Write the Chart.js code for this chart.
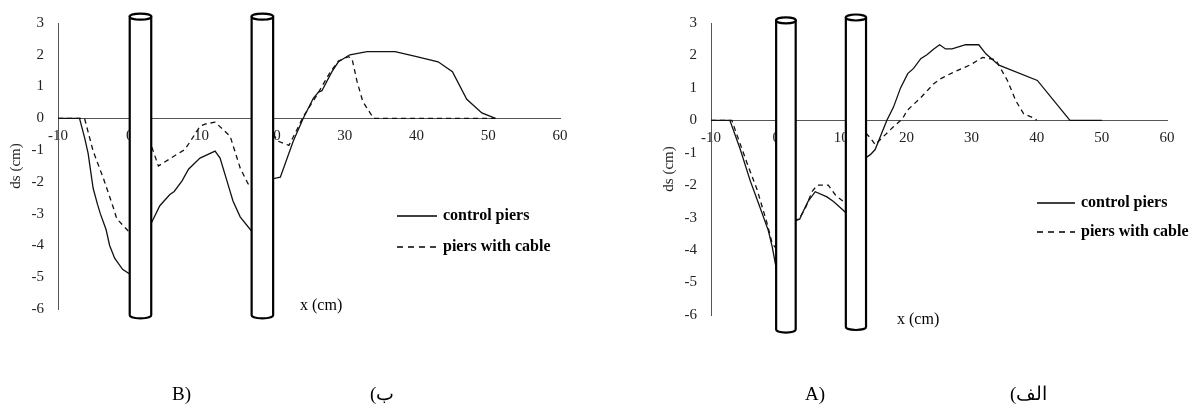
<!DOCTYPE html>
<html>
<head>
<meta charset="utf-8">
<script src="https://cdn.jsdelivr.net/npm/chart.js@4.4.1/dist/chart.umd.min.js"></script>
<style>
  body { margin: 0; background: #fff; }
  #wrap { position: relative; width: 1199px; height: 412px; overflow: hidden; background: #fff; }
  .panel { position: absolute; top: 0; height: 412px; }
  .cap { position: absolute; top: 384px; font: 19px "Liberation Serif", "Times New Roman", serif; color: #000; line-height: 1; }
</style>
</head>
<body>
<div id="wrap">
  <div class="panel" style="left:0;width:600px"><canvas id="chartB"></canvas></div>
  <div class="panel" style="left:600px;width:599px"><canvas id="chartA"></canvas></div>
  <div class="cap" style="left:172px">B)</div>
  <div class="cap" dir="rtl" style="left:370px">ب)</div>
  <div class="cap" style="left:805px">A)</div>
  <div class="cap" dir="rtl" style="left:1010px">الف)</div>
</div>
<script>
// scour depth ds (cm) along x (cm), panel B
const bCtrlX = [-10, -7, -6.3, -5.8, -5.1, -4.5, -4.1, -3.3, -2.8, -2.1, -1, 0,
    3, 4.2, 5.6, 6.2, 7.3, 8.2, 9.8, 11.9, 12.6, 13.6, 14.4, 15.4, 17,
    20, 21, 22.8, 24.2, 25.6, 26.3, 26.8, 28.2, 29.1, 30.7, 33.1, 37, 40, 43, 45, 47, 49.1, 51];
const bCtrlY = [0, 0, -0.6, -1.1, -2.2, -2.7, -3.0, -3.5, -4.0, -4.4, -4.75, -4.9,
    -3.3, -2.75, -2.4, -2.3, -1.97, -1.6, -1.25, -1.03, -1.25, -2.0, -2.6, -3.1, -3.55,
    -1.9, -1.85, -0.72, 0, 0.63, 0.82, 0.87, 1.47, 1.78, 2.0, 2.1, 2.1, 1.94, 1.78, 1.47, 0.6, 0.17, 0];
const bCableX = [-10, -6.3, -5.1, -3.7, -2.75, -2.3, -1.8, -0.4, 0,
    3, 4, 6.1, 7.7, 9.1, 9.8, 10.5, 11.9, 14, 15.4, 16.5, 17,
    20, 20.7, 22.2, 23, 24.2, 26.1, 28, 29.1, 30.5, 31, 31.7, 32.5, 34, 51];
const bCableY = [0, 0, -1.03, -1.87, -2.5, -2.8, -3.16, -3.5, -3.6,
    -0.85, -1.5, -1.2, -0.98, -0.5, -0.25, -0.18, -0.12, -0.56, -1.56, -2.06, -2.1,
    -0.5, -0.72, -0.85, -0.5, 0.05, 0.73, 1.47, 1.8, 1.94, 1.88, 1.16, 0.53, 0, 0];

// panel A
const aCtrlX = [-10, -7.1, -5.5, -4, -2.5, -1.2, -0.6, 0,
    3, 3.6, 4, 4.9, 6, 7.8, 8.8, 10.3, 10.7,
    13.8, 14.5, 15.2, 16, 17, 18, 19.1, 20.2, 21.1, 22.2, 23.2, 24.2, 25.1, 26, 27, 29.1, 31.1, 32.2, 34.2, 40.1, 45.1, 50];
const aCtrlY = [0, 0, -0.9, -1.85, -2.67, -3.4, -3.9, -4.55,
    -3.05, -3.05, -2.87, -2.5, -2.2, -2.36, -2.5, -2.77, -2.85,
    -1.15, -1.05, -0.9, -0.5, 0, 0.4, 1.0, 1.44, 1.6, 1.9, 2.03, 2.2, 2.33, 2.2, 2.2, 2.33, 2.33, 2.05, 1.7, 1.23, 0, 0];
const aCableX = [-10, -6.8, -6, -4.5, -2.9, -1.4, -0.6, 0,
    3, 3.5, 4.5, 5.5, 6.3, 8, 9.1, 10.3, 10.7,
    13.8, 14.5, 15.2, 16.2, 18, 19.4, 20.1, 22.2, 24.2, 25.2, 27.2, 29.8, 31.7, 33.7, 35.5, 36.8, 38, 39.8, 40];
const aCableY = [0, 0, -0.46, -1.3, -2.15, -3.17, -3.8, -3.95,
    -3.1, -3.05, -2.7, -2.2, -2.0, -2.0, -2.3, -2.5, -2.55,
    -0.4, -0.55, -0.75, -0.55, -0.2, 0.05, 0.3, 0.7, 1.13, 1.28, 1.48, 1.71, 1.94, 1.87, 1.23, 0.6, 0.2, 0.05, 0];

// pier extents in data units
const bPierFrom = [0, 17], bPierTo = [3, 20], bPierTop = [3.2, 3.2], bPierBottom = [-6.2, -6.2];
const aPierFrom = [0, 10.7], aPierTo = [3, 13.8], aPierTop = [3.08, 3.17], aPierBottom = [-6.45, -6.37];

const seriesNames = ['control piers', 'piers with cable'];
const SERIF = '"Liberation Serif", "Times New Roman", serif';

function toPoints(xs, ys) {
    return xs.map((v, i) => ({ x: v, y: ys[i] }));
}

// draws the piers on top of the plot, then the legend and the x note
const piersPlugin = {
    id: 'piers',
    afterDraw(chart, args, opts) {
        const { ctx, scales: { x, y } } = chart;
        ctx.save();
        ctx.lineWidth = 2.2;
        ctx.strokeStyle = '#000';
        ctx.fillStyle = '#fff';
        opts.from.forEach((f, i) => {
            const l = x.getPixelForValue(f);
            const r = x.getPixelForValue(opts.to[i]);
            const t = y.getPixelForValue(opts.top[i]);
            const b = y.getPixelForValue(opts.bottom[i]);
            const cx = (l + r) / 2, rx = (r - l) / 2, ry = 3;
            ctx.beginPath();
            ctx.moveTo(l, t);
            ctx.lineTo(l, b);
            ctx.ellipse(cx, b, rx, ry, 0, Math.PI, 0, true);
            ctx.lineTo(r, t);
            ctx.closePath();
            ctx.fill();
            ctx.stroke();
            ctx.beginPath();
            ctx.ellipse(cx, t, rx, ry, 0, 0, Math.PI * 2);
            ctx.fill();
            ctx.stroke();
        });

        // legend
        const lg = opts.legend;
        ctx.fillStyle = '#000';
        ctx.font = 'bold 16px ' + SERIF;
        ctx.textBaseline = 'middle';
        chart.data.datasets.forEach((ds, i) => {
            const yy = lg.y + i * lg.gap;
            ctx.beginPath();
            ctx.lineWidth = 1.6;
            ctx.setLineDash(ds.borderDash ? [6, 5] : []);
            ctx.moveTo(lg.x, yy);
            ctx.lineTo(lg.x + lg.len, yy);
            ctx.stroke();
            ctx.setLineDash([]);
            ctx.fillText(ds.label, lg.x + lg.len + 6, yy);
        });

        ctx.font = '16px ' + SERIF;
        ctx.fillText(opts.note.text, opts.note.x, opts.note.y);
        ctx.restore();
    }
};

function makeChart(id, ctrl, cable, piers, pad, legend, note) {
    return new Chart(document.getElementById(id), {
        type: 'line',
        data: {
            datasets: [{
                label: seriesNames[0],
                data: ctrl,
                borderColor: '#111',
                borderWidth: 1.3
            }, {
                label: seriesNames[1],
                data: cable,
                borderColor: '#111',
                borderWidth: 1.3,
                borderDash: [5, 4]
            }]
        },
        options: {
            responsive: true,
            maintainAspectRatio: false,
            animation: false,
            layout: { padding: pad },
            elements: { point: { radius: 0 }, line: { tension: 0 } },
            plugins: {
                legend: { display: false },
                tooltip: { enabled: false },
                piers: { ...piers, legend: legend, note: note }
            },
            scales: {
                x: {
                    type: 'linear',
                    position: { y: 0 },
                    min: -10,
                    max: 60,
                    grid: { display: false, drawTicks: false },
                    border: { display: true, color: '#555', width: 1 },
                    ticks: { stepSize: 10, padding: 9, maxRotation: 0, color: '#222', font: { family: SERIF, size: 15 } }
                },
                y: {
                    type: 'linear',
                    position: 'left',
                    min: -6,
                    max: 3,
                    afterFit(scale) { scale.width = 58; },
                    grid: { display: false, drawTicks: false },
                    border: { display: true, color: '#555', width: 1 },
                    ticks: { stepSize: 1, padding: 14, color: '#222', font: { family: SERIF, size: 15 } },
                    title: { display: true, text: 'ds (cm)', color: '#222', padding: { top: 7, bottom: 0 }, font: { family: SERIF, size: 15 } }
                }
            }
        },
        plugins: [piersPlugin]
    });
}

makeChart('chartB', toPoints(bCtrlX, bCtrlY), toPoints(bCableX, bCableY),
    { from: bPierFrom, to: bPierTo, top: bPierTop, bottom: bPierBottom },
    { left: 0, top: 21, right: 40, bottom: 103 },
    { x: 397, y: 216, gap: 31, len: 40 },
    { text: 'x (cm)', x: 300, y: 306 });

makeChart('chartA', toPoints(aCtrlX, aCtrlY), toPoints(aCableX, aCableY),
    { from: aPierFrom, to: aPierTo, top: aPierTop, bottom: aPierBottom },
    { left: 53, top: 22, right: 32, bottom: 97 },
    { x: 437, y: 203, gap: 29, len: 38 },
    { text: 'x (cm)', x: 297, y: 320 });
</script>
</body>
</html>
